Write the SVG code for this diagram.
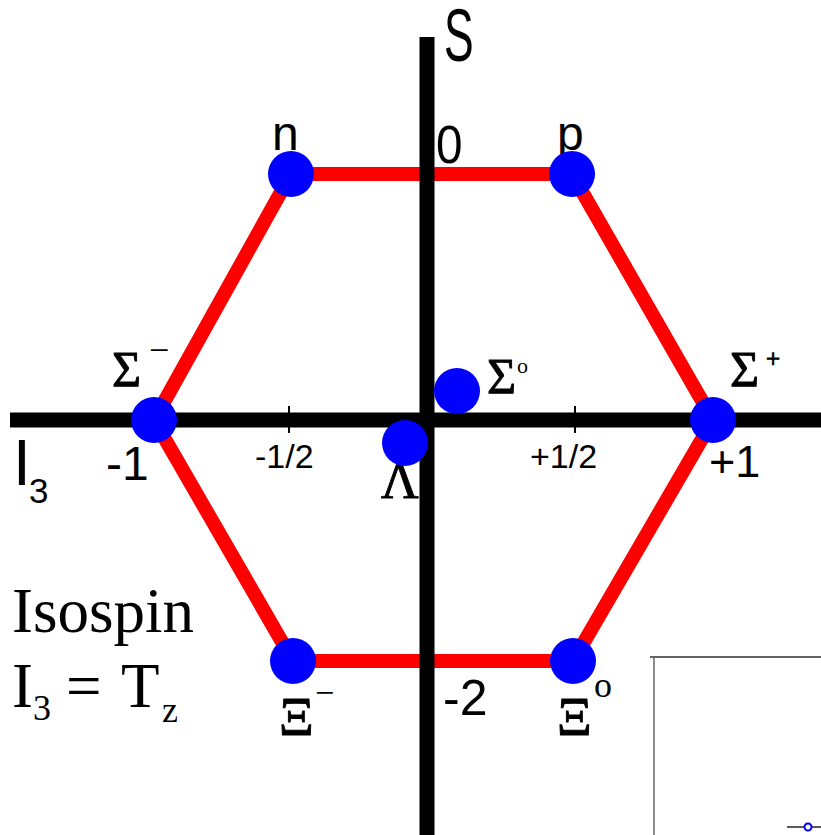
<svg xmlns="http://www.w3.org/2000/svg" width="821" height="835" viewBox="0 0 821 835">
<style>
.edge{stroke:#ff0000;stroke-width:14;stroke-linecap:round;fill:none}
.axis{stroke:#000;stroke-width:15;fill:none}
.tick{stroke:#000;stroke-width:2}
.dot{fill:#0000ff}
.sans{font-family:"Liberation Sans",Arial,sans-serif;fill:#000}
.serif{font-family:"Liberation Serif","Times New Roman",serif;fill:#000}
.greek{font-family:"Liberation Serif","Times New Roman",serif;fill:#000;stroke:#000;stroke-width:0.9}
</style>
<rect width="821" height="835" fill="#fff"/>
<g id="connectors">
<line class="edge" x1="291" y1="174" x2="572" y2="174"/>
<line class="edge" x1="572" y1="174" x2="713" y2="420"/>
<line class="edge" x1="713" y1="420" x2="573" y2="661"/>
<line class="edge" x1="573" y1="661" x2="293" y2="661"/>
<line class="edge" x1="293" y1="661" x2="154" y2="420"/>
<line class="edge" x1="154" y1="420" x2="291" y2="174"/>
</g>
<g id="axes">
<line class="axis" x1="10" y1="420" x2="821" y2="420"/>
<line class="axis" x1="427" y1="37" x2="427" y2="835"/>
<line class="tick" x1="289" y1="406" x2="289" y2="433"/>
<line class="tick" x1="575" y1="406" x2="575" y2="433"/>
<text class="sans" font-size="74" transform="translate(444,61) scale(0.6,1)">S</text>
<text class="sans" font-size="53" transform="translate(436,163) scale(0.9,1)">0</text>
<text class="sans" font-size="50" x="443" y="715">-2</text>
<text class="sans" font-size="48" x="106" y="480">-1</text>
<text class="sans" font-size="45" x="709" y="477">+1</text>
<text class="sans" font-size="34" x="255" y="468">-1/2</text>
<text class="sans" font-size="34" x="530" y="468">+1/2</text>
<text class="sans" font-size="64" x="13" y="485">I</text>
<text class="sans" font-size="35" x="29" y="503">3</text>
</g>
<g id="node-n">
<circle class="dot" cx="291" cy="174" r="23"/>
<text class="sans" font-size="48" x="272" y="150">n</text>
</g>
<g id="node-p">
<text class="sans" font-size="48" x="557" y="150">p</text>
<circle class="dot" cx="572" cy="174" r="23"/>
</g>
<g id="node-sigma-minus">
<circle class="dot" cx="154" cy="420" r="23"/>
<text class="greek" font-size="50" x="112" y="386">Σ</text>
<text class="serif" font-size="36" x="149" y="362">−</text>
</g>
<g id="node-sigma-plus">
<circle class="dot" cx="713" cy="420" r="23"/>
<text class="greek" font-size="50" x="730" y="386">Σ</text>
<text class="greek" font-size="25" stroke-width="0.5" x="766" y="367">+</text>
</g>
<g id="node-sigma-zero">
<circle class="dot" cx="457" cy="391" r="23"/>
<text class="greek" font-size="50" x="487" y="393">Σ</text>
<text class="serif" font-size="22" x="517" y="373">o</text>
</g>
<g id="node-lambda">
<text class="greek" font-size="52" x="381" y="498">Λ</text>
<circle class="dot" cx="405" cy="443" r="23"/>
</g>
<g id="node-xi-minus">
<circle class="dot" cx="293" cy="661" r="23"/>
<text class="greek" font-size="54" x="279" y="735">Ξ</text>
<text class="serif" font-size="34" x="315" y="704">−</text>
</g>
<g id="node-xi-zero">
<circle class="dot" cx="573" cy="661" r="23"/>
<text class="greek" font-size="54" x="557" y="735">Ξ</text>
<text class="serif" font-size="36" x="594" y="697">o</text>
</g>
<g id="isospin-label">
<text class="serif" font-size="63" x="12" y="632">Isospin</text>
<text class="serif" font-size="63" x="12" y="707">I</text>
<text class="serif" font-size="36" x="33" y="720">3</text>
<text class="serif" font-size="63" x="66" y="707">=</text>
<text class="serif" font-size="63" x="121" y="707">T</text>
<text class="serif" font-size="36" x="162" y="722">z</text>
</g>
<g id="inset-frame">
<line x1="650" y1="657" x2="821" y2="657" stroke="#333" stroke-width="1.5"/>
<line x1="654" y1="657" x2="654" y2="835" stroke="#666" stroke-width="1.5"/>
<line x1="787" y1="827" x2="821" y2="827" stroke="#222" stroke-width="1.5"/>
<circle cx="808" cy="827" r="3.5" fill="#fff" stroke="#0000ff" stroke-width="2"/>
</g>
</svg>
